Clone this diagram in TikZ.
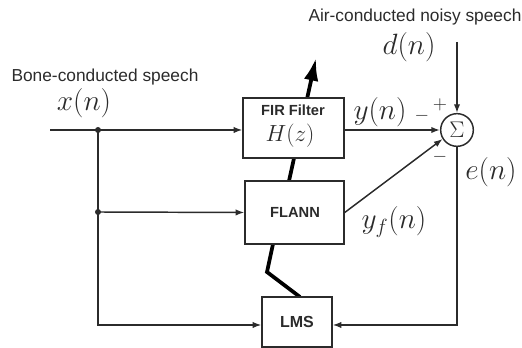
\RequirePackage{fix-cm}
\documentclass[tikz,border=0pt]{standalone}
\usepackage{fontspec}
\setsansfont{Liberation Sans}
\usetikzlibrary{arrows.meta}
\definecolor{ink}{HTML}{2B2B2B}
\tikzset{
  sig/.style={draw=ink, line width=1.1pt, -{Latex[length=6.5pt,width=4.8pt]}},
  wire/.style={draw=ink, line width=1.1pt},
  blk/.style={draw=ink, line width=1.1pt, fill=white, inner sep=0pt},
  thickpath/.style={draw=black, line width=2.8pt},
  jdot/.style={circle, fill=ink, inner sep=0pt, minimum size=4.5pt},
  captext/.style={text=ink, font=\sffamily\fontsize{13}{15}\selectfont, inner sep=0pt},
  bl/.style={text=ink, font=\sffamily\bfseries\fontsize{11}{13}\selectfont, inner sep=0pt},
  mlab/.style={text=ink, font=\fontsize{22}{26}\selectfont, inner sep=0pt},
  pm/.style={text=ink, font=\fontsize{14}{16}\selectfont, inner sep=0pt},
}
\begin{document}
\begin{tikzpicture}[x=0.75pt,y=-0.75pt]
\useasboundingbox (0,0) rectangle (522,348);
% coordinates
\coordinate (in) at (50,130);
\coordinate (j1) at (98,130);
\coordinate (j2) at (98,212);
\coordinate (lmsl) at (98,325);
\coordinate (er) at (457,325);
\coordinate (dtop) at (457,42);
\coordinate (tip) at (316,58);
\coordinate (zz) at (267,272);
% thick adaptation path (behind boxes)
\coordinate (fltop) at (289,181);
\coordinate (flbot) at (273,244);
\coordinate (lmstop) at (300,297);
\draw[thickpath, -{Latex[length=17pt,width=11pt]}] (fltop) -- (tip);
\draw[thickpath, line join=miter] (flbot) -- (zz) -- (lmstop);
% blocks
\node[blk, minimum width=75.75pt, minimum height=45pt] (fir) at (293.5,128) {};
\node[bl] (firt) at (293,110) {FIR Filter};
\node[mlab, font=\fontsize{17.5}{20}\selectfont] (hz) at (290,136) {$H(z)$};
\node[blk, minimum width=74.25pt, minimum height=47.25pt] (flann) at (294.5,212.5) {};
\node[bl] (flannt) at (295,212) {FLANN};
\node[blk, minimum width=52.5pt, minimum height=37.5pt, font=\sffamily\bfseries\fontsize{12}{14}\selectfont, text=ink] (lms) at (297,322) {LMS};
\node[draw=ink, line width=1.1pt, circle, minimum size=24.5pt, inner sep=0pt, text=ink, font=\fontsize{17}{20}\selectfont] (sum) at (457,130) {$\Sigma$};
% labels
\node[captext] (bone) at (105,77) {Bone-conducted speech};
\node[mlab] (xn) at (84,103) {$x(n)$};
\node[captext] (air) at (415,17) {Air-conducted noisy speech};
\node[mlab] (dn) at (409,47) {$d(n)$};
\node[mlab] (yn) at (380,112) {$y(n)$};
\node[mlab] (yfn) at (394,222) {$y_f(n)$};
\node[mlab] (en) at (491,172) {$e(n)$};
\node[pm] (m1) at (422,116) {$-$};
\node[pm] (p1) at (440,105) {$+$};
\node[pm] (m2) at (440,157) {$-$};
% connectors
\draw[sig] (in) -- (j1) -- (j1 -| fir.west);
\draw[wire] (j1) -- (j2);
\draw[sig] (j2) -- (flann.west);
\draw[sig] (j2) -- (lmsl) -- (lmsl -| lms.west);
\draw[sig] (fir.east |- sum) -- (sum.west);
\draw[sig] (flann.east) -- (sum.212);
\draw[sig] (dtop) -- (sum.north);
\draw[sig] (sum.south) -- (er) -- (er -| lms.east);
% junction dots
\node[jdot] (d1) at (j1) {};
\node[jdot] (d2) at (j2) {};
\end{tikzpicture}
\end{document}
